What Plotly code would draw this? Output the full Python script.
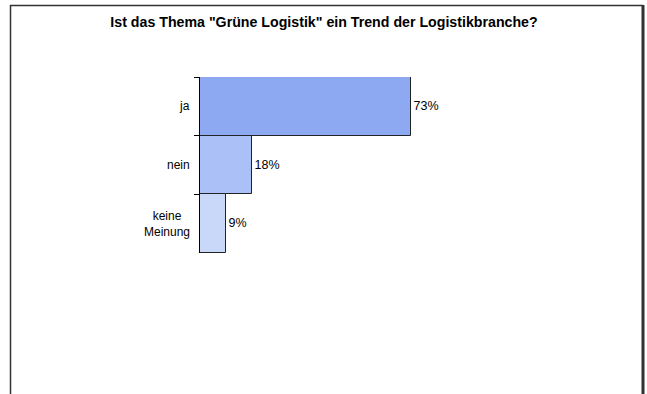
import plotly.graph_objects as go

categories = ["ja", "nein", "keine Meinung"]
cat_labels = ["ja", "nein", "keine<br>Meinung"]
values = [73, 18, 9]
labels = ["73%", "18%", "9%"]
colors = ["#8CA9F1", "#AAC0F6", "#C9D7F9"]

W, H = 647, 394
L, R, T, B = 200, 158, 77, 141
pw = W - L - R
ph = H - T - B
FONT = "Liberation Sans, Arial"

def px(x):
    return (x - L) / pw

def py(y):
    return (H - B - y) / ph

fig = go.Figure(go.Bar(
    y=categories, x=values, orientation="h",
    marker=dict(color=colors, line=dict(color="#222222", width=1)),
    text=labels, textposition="outside", cliponaxis=False,
    textfont=dict(family=FONT, size=12.5, color="#000"),
    width=1,
))

annotations = [
    dict(text=lab, x=px(192), xref="paper", y=cat, yref="y",
         xanchor="right", yanchor="middle", align="center", showarrow=False,
         font=dict(family=FONT, size=12, color="#000"))
    for cat, lab in zip(categories, cat_labels)
]

fig.update_layout(
    width=W, height=H,
    margin=dict(l=L, r=R, t=T, b=B),
    paper_bgcolor="white", plot_bgcolor="white",
    bargap=0,
    showlegend=False,
    title=dict(text="<b>Ist das Thema \"Grüne Logistik\" ein Trend der Logistikbranche?</b>",
               x=324 / W, xref="container", xanchor="center", y=1 - 22 / H, yanchor="middle",
               font=dict(family=FONT, size=14.2, color="#000")),
    xaxis=dict(range=[0, 100], visible=False, fixedrange=True),
    yaxis=dict(categoryorder="array", categoryarray=categories, autorange="reversed",
               showline=True, linecolor="#000", linewidth=1,
               ticks="outside", tickson="boundaries", ticklen=5, tickcolor="#000",
               showticklabels=False,
               showgrid=False, zeroline=False),
    annotations=annotations,
    shapes=[
        dict(type="line", xref="paper", yref="paper", x0=px(10.5), x1=px(10.5), y0=py(5), y1=py(400),
             line=dict(color="#333", width=1.5)),
        dict(type="line", xref="paper", yref="paper", x0=px(10), x1=px(643), y0=py(5.5), y1=py(5.5),
             line=dict(color="#333", width=1.5)),
        dict(type="line", xref="paper", yref="paper", x0=px(643), x1=px(643), y0=py(5), y1=py(400),
             line=dict(color="#333", width=3)),
    ],
)

fig.write_html("out.html")
